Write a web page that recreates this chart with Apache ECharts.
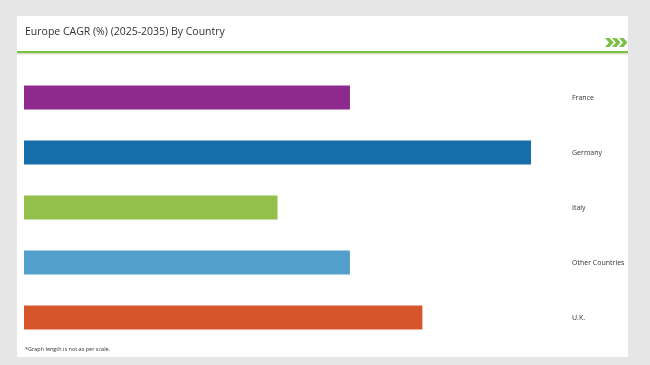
<!DOCTYPE html>
<html>
<head>
<meta charset="utf-8">
<script src="https://cdn.jsdelivr.net/npm/echarts@6/dist/echarts.min.js"></script>
<style>
html,body{margin:0;padding:0;background:#e6e6e6;}
#c{width:650px;height:365px;}
</style>
</head>
<body>
<div id="c"></div>
<script>
var categories = ["France", "Germany", "Italy", "Other Countries", "U.K."];
var values = [4.5, 7.0, 3.5, 4.5, 5.5];
var colors = ["#8e2a8d", "#156daa", "#92c04a", "#529fcb", "#d6552b"];
var titleText = "Europe CAGR (%) (2025-2035) By Country";
var footnote = "*Graph length is not as per scale.";

var chart = echarts.init(document.getElementById('c'), null, {renderer: 'canvas'});

function chevron(x) {
  return {
    type: 'polygon', z: 5,
    shape: {points: [[x, 38], [x + 4.5, 38], [x + 8.5, 42.5], [x + 4.5, 47], [x, 47], [x + 4, 42.5]]},
    style: {fill: '#7cc043'}
  };
}

chart.setOption({
  backgroundColor: '#e6e6e6',
  animation: false,
  graphic: [
    {type: 'rect', z: -2, shape: {x: 17, y: 16, width: 611, height: 341}, style: {fill: '#ffffff'}},
    {type: 'rect', z: -1, shape: {x: 17, y: 53, width: 611, height: 2}, style: {fill: '#eeeeee'}},
    {type: 'rect', z: 1, shape: {x: 17, y: 51, width: 611, height: 2.2}, style: {fill: '#7cc043'}},
    chevron(605), chevron(612), chevron(619),
    {type: 'text', z: 5, left: 25, top: 27, style: {text: titleText, fill: '#333333', font: '10.5px "Open Sans"'}},
    {type: 'text', z: 5, left: 25, top: 346, style: {text: footnote, fill: '#333333', font: '5.5px "Open Sans"'}}
  ],
  grid: {left: 24, right: 90, top: 70, height: 275, containLabel: false},
  xAxis: {type: 'value', min: 0, max: 7.4, show: false},
  yAxis: {
    type: 'category', data: categories, inverse: true, position: 'right',
    axisLine: {show: false}, axisTick: {show: false},
    axisLabel: {margin: 12, color: '#333333', fontSize: 7, fontFamily: 'Open Sans', align: 'left', padding: [3, 0, 0, 0]}
  },
  series: [{
    type: 'bar', barWidth: 24,
    data: values.map(function (v, i) { return {value: v, itemStyle: {color: colors[i]}}; })
  }]
});
</script>
</body>
</html>
